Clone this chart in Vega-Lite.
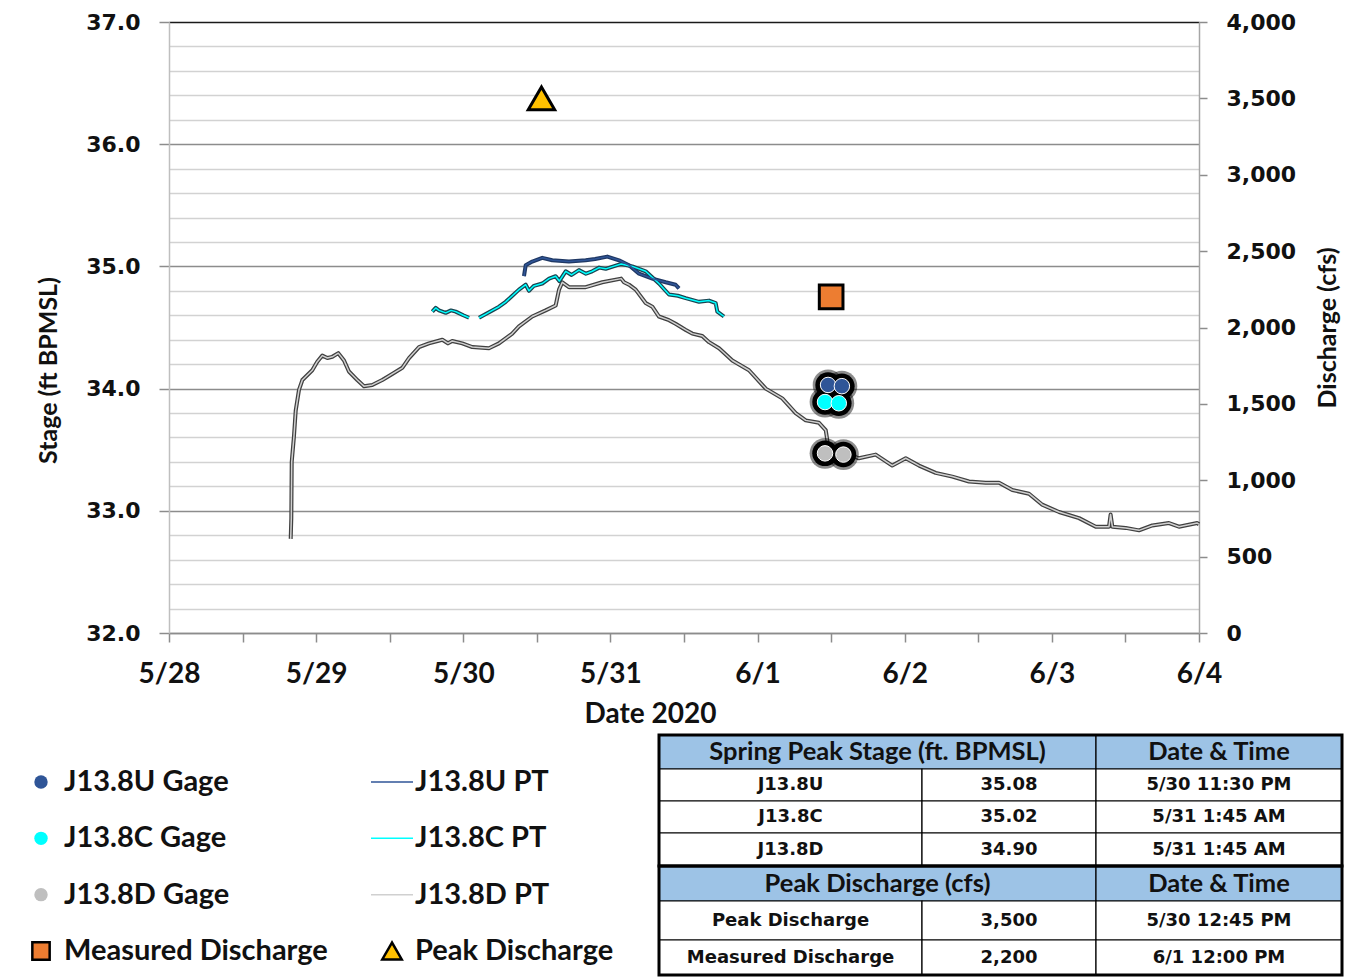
{
"$schema": "https://vega.github.io/schema/vega-lite/v6.json",
"background": "white",
"padding": {"left": 27, "top": 11, "right": 5, "bottom": 2},
"bounds": "flush",
"spacing": 102,
"config": {"view": {"stroke": null}},
"datasets": {
"pt": [
{"s":"J13.8D PT","g":"D","t":"2020-05-28T19:51","v":32.77},
{"s":"J13.8D PT","g":"D","t":"2020-05-28T19:57","v":32.94},
{"s":"J13.8D PT","g":"D","t":"2020-05-28T20:01","v":33.40},
{"s":"J13.8D PT","g":"D","t":"2020-05-28T20:23","v":33.61},
{"s":"J13.8D PT","g":"D","t":"2020-05-28T20:40","v":33.82},
{"s":"J13.8D PT","g":"D","t":"2020-05-28T21:12","v":33.99},
{"s":"J13.8D PT","g":"D","t":"2020-05-28T21:45","v":34.07},
{"s":"J13.8D PT","g":"D","t":"2020-05-28T23:22","v":34.15},
{"s":"J13.8D PT","g":"D","t":"2020-05-29T00:11","v":34.22},
{"s":"J13.8D PT","g":"D","t":"2020-05-29T01:00","v":34.27},
{"s":"J13.8D PT","g":"D","t":"2020-05-29T01:50","v":34.25},
{"s":"J13.8D PT","g":"D","t":"2020-05-29T02:38","v":34.26},
{"s":"J13.8D PT","g":"D","t":"2020-05-29T03:37","v":34.29},
{"s":"J13.8D PT","g":"D","t":"2020-05-29T04:33","v":34.23},
{"s":"J13.8D PT","g":"D","t":"2020-05-29T05:21","v":34.14},
{"s":"J13.8D PT","g":"D","t":"2020-05-29T06:43","v":34.07},
{"s":"J13.8D PT","g":"D","t":"2020-05-29T07:48","v":34.02},
{"s":"J13.8D PT","g":"D","t":"2020-05-29T09:10","v":34.03},
{"s":"J13.8D PT","g":"D","t":"2020-05-29T10:47","v":34.07},
{"s":"J13.8D PT","g":"D","t":"2020-05-29T12:25","v":34.12},
{"s":"J13.8D PT","g":"D","t":"2020-05-29T14:03","v":34.17},
{"s":"J13.8D PT","g":"D","t":"2020-05-29T15:09","v":34.25},
{"s":"J13.8D PT","g":"D","t":"2020-05-29T16:47","v":34.34},
{"s":"J13.8D PT","g":"D","t":"2020-05-29T18:24","v":34.37},
{"s":"J13.8D PT","g":"D","t":"2020-05-29T20:35","v":34.40},
{"s":"J13.8D PT","g":"D","t":"2020-05-29T21:30","v":34.37},
{"s":"J13.8D PT","g":"D","t":"2020-05-29T22:12","v":34.39},
{"s":"J13.8D PT","g":"D","t":"2020-05-29T23:50","v":34.37},
{"s":"J13.8D PT","g":"D","t":"2020-05-30T01:28","v":34.34},
{"s":"J13.8D PT","g":"D","t":"2020-05-30T04:11","v":34.33},
{"s":"J13.8D PT","g":"D","t":"2020-05-30T05:49","v":34.37},
{"s":"J13.8D PT","g":"D","t":"2020-05-30T07:59","v":34.45},
{"s":"J13.8D PT","g":"D","t":"2020-05-30T09:05","v":34.51},
{"s":"J13.8D PT","g":"D","t":"2020-05-30T11:15","v":34.59},
{"s":"J13.8D PT","g":"D","t":"2020-05-30T13:26","v":34.64},
{"s":"J13.8D PT","g":"D","t":"2020-05-30T15:04","v":34.68},
{"s":"J13.8D PT","g":"D","t":"2020-05-30T15:37","v":34.81},
{"s":"J13.8D PT","g":"D","t":"2020-05-30T16:09","v":34.87},
{"s":"J13.8D PT","g":"D","t":"2020-05-30T17:14","v":34.83},
{"s":"J13.8D PT","g":"D","t":"2020-05-30T19:58","v":34.83},
{"s":"J13.8D PT","g":"D","t":"2020-05-30T22:40","v":34.87},
{"s":"J13.8D PT","g":"D","t":"2020-05-31T01:45","v":34.90},
{"s":"J13.8D PT","g":"D","t":"2020-05-31T02:13","v":34.87},
{"s":"J13.8D PT","g":"D","t":"2020-05-31T03:02","v":34.85},
{"s":"J13.8D PT","g":"D","t":"2020-05-31T04:07","v":34.81},
{"s":"J13.8D PT","g":"D","t":"2020-05-31T05:45","v":34.70},
{"s":"J13.8D PT","g":"D","t":"2020-05-31T06:50","v":34.67},
{"s":"J13.8D PT","g":"D","t":"2020-05-31T07:55","v":34.59},
{"s":"J13.8D PT","g":"D","t":"2020-05-31T09:33","v":34.56},
{"s":"J13.8D PT","g":"D","t":"2020-05-31T10:38","v":34.53},
{"s":"J13.8D PT","g":"D","t":"2020-05-31T12:17","v":34.48},
{"s":"J13.8D PT","g":"D","t":"2020-05-31T13:21","v":34.45},
{"s":"J13.8D PT","g":"D","t":"2020-05-31T14:59","v":34.43},
{"s":"J13.8D PT","g":"D","t":"2020-05-31T16:05","v":34.38},
{"s":"J13.8D PT","g":"D","t":"2020-05-31T17:43","v":34.33},
{"s":"J13.8D PT","g":"D","t":"2020-05-31T19:53","v":34.23},
{"s":"J13.8D PT","g":"D","t":"2020-05-31T22:36","v":34.15},
{"s":"J13.8D PT","g":"D","t":"2020-06-01T01:20","v":34.00},
{"s":"J13.8D PT","g":"D","t":"2020-06-01T04:02","v":33.92},
{"s":"J13.8D PT","g":"D","t":"2020-06-01T06:13","v":33.80},
{"s":"J13.8D PT","g":"D","t":"2020-06-01T07:51","v":33.74},
{"s":"J13.8D PT","g":"D","t":"2020-06-01T10:01","v":33.72},
{"s":"J13.8D PT","g":"D","t":"2020-06-01T11:07","v":33.66},
{"s":"J13.8D PT","g":"D","t":"2020-06-01T11:22","v":33.58},
{"s":"J13.8D PT","g":"D","t":"2020-06-01T11:30","v":33.47},
{"s":"J13.8D PT","g":"D","t":"2020-06-01T14:00","v":33.46},
{"s":"J13.8D PT","g":"D","t":"2020-06-01T16:00","v":33.44},
{"s":"J13.8D PT","g":"D","t":"2020-06-01T16:32","v":33.43},
{"s":"J13.8D PT","g":"D","t":"2020-06-01T19:16","v":33.46},
{"s":"J13.8D PT","g":"D","t":"2020-06-01T21:58","v":33.37},
{"s":"J13.8D PT","g":"D","t":"2020-06-02T00:10","v":33.43},
{"s":"J13.8D PT","g":"D","t":"2020-06-02T02:20","v":33.37},
{"s":"J13.8D PT","g":"D","t":"2020-06-02T05:03","v":33.31},
{"s":"J13.8D PT","g":"D","t":"2020-06-02T07:45","v":33.28},
{"s":"J13.8D PT","g":"D","t":"2020-06-02T10:29","v":33.24},
{"s":"J13.8D PT","g":"D","t":"2020-06-02T13:12","v":33.23},
{"s":"J13.8D PT","g":"D","t":"2020-06-02T15:23","v":33.23},
{"s":"J13.8D PT","g":"D","t":"2020-06-02T17:33","v":33.17},
{"s":"J13.8D PT","g":"D","t":"2020-06-02T20:16","v":33.14},
{"s":"J13.8D PT","g":"D","t":"2020-06-02T22:26","v":33.05},
{"s":"J13.8D PT","g":"D","t":"2020-06-03T01:10","v":32.99},
{"s":"J13.8D PT","g":"D","t":"2020-06-03T04:26","v":32.94},
{"s":"J13.8D PT","g":"D","t":"2020-06-03T07:09","v":32.87},
{"s":"J13.8D PT","g":"D","t":"2020-06-03T09:19","v":32.87},
{"s":"J13.8D PT","g":"D","t":"2020-06-03T09:35","v":32.97},
{"s":"J13.8D PT","g":"D","t":"2020-06-03T09:52","v":32.87},
{"s":"J13.8D PT","g":"D","t":"2020-06-03T12:03","v":32.86},
{"s":"J13.8D PT","g":"D","t":"2020-06-03T14:13","v":32.84},
{"s":"J13.8D PT","g":"D","t":"2020-06-03T16:23","v":32.88},
{"s":"J13.8D PT","g":"D","t":"2020-06-03T19:06","v":32.90},
{"s":"J13.8D PT","g":"D","t":"2020-06-03T20:44","v":32.87},
{"s":"J13.8D PT","g":"D","t":"2020-06-03T23:43","v":32.90},
{"s":"J13.8D PT","g":"D","t":"2020-06-04T00:00","v":32.89},
{"s":"J13.8C PT","g":"C1","t":"2020-05-29T18:57","v":34.63},
{"s":"J13.8C PT","g":"C1","t":"2020-05-29T19:30","v":34.66},
{"s":"J13.8C PT","g":"C1","t":"2020-05-29T20:02","v":34.64},
{"s":"J13.8C PT","g":"C1","t":"2020-05-29T21:08","v":34.62},
{"s":"J13.8C PT","g":"C1","t":"2020-05-29T22:00","v":34.64},
{"s":"J13.8C PT","g":"C1","t":"2020-05-29T22:46","v":34.63},
{"s":"J13.8C PT","g":"C1","t":"2020-05-30T00:00","v":34.60},
{"s":"J13.8C PT","g":"C1","t":"2020-05-30T00:56","v":34.58},
{"s":"J13.8C PT","g":"C2","t":"2020-05-30T02:34","v":34.58},
{"s":"J13.8C PT","g":"C2","t":"2020-05-30T03:40","v":34.61},
{"s":"J13.8C PT","g":"C2","t":"2020-05-30T04:44","v":34.64},
{"s":"J13.8C PT","g":"C2","t":"2020-05-30T05:50","v":34.67},
{"s":"J13.8C PT","g":"C2","t":"2020-05-30T06:55","v":34.71},
{"s":"J13.8C PT","g":"C2","t":"2020-05-30T08:00","v":34.76},
{"s":"J13.8C PT","g":"C2","t":"2020-05-30T09:05","v":34.81},
{"s":"J13.8C PT","g":"C2","t":"2020-05-30T10:11","v":34.85},
{"s":"J13.8C PT","g":"C2","t":"2020-05-30T10:43","v":34.80},
{"s":"J13.8C PT","g":"C2","t":"2020-05-30T11:30","v":34.84},
{"s":"J13.8C PT","g":"C2","t":"2020-05-30T12:53","v":34.86},
{"s":"J13.8C PT","g":"C2","t":"2020-05-30T14:00","v":34.90},
{"s":"J13.8C PT","g":"C2","t":"2020-05-30T15:04","v":34.92},
{"s":"J13.8C PT","g":"C2","t":"2020-05-30T15:40","v":34.88},
{"s":"J13.8C PT","g":"C2","t":"2020-05-30T16:42","v":34.96},
{"s":"J13.8C PT","g":"C2","t":"2020-05-30T17:40","v":34.93},
{"s":"J13.8C PT","g":"C2","t":"2020-05-30T18:52","v":34.97},
{"s":"J13.8C PT","g":"C2","t":"2020-05-30T20:00","v":34.94},
{"s":"J13.8C PT","g":"C2","t":"2020-05-30T21:02","v":34.96},
{"s":"J13.8C PT","g":"C2","t":"2020-05-30T22:10","v":34.99},
{"s":"J13.8C PT","g":"C2","t":"2020-05-30T23:14","v":34.98},
{"s":"J13.8C PT","g":"C2","t":"2020-05-31T00:30","v":35.00},
{"s":"J13.8C PT","g":"C2","t":"2020-05-31T01:45","v":35.02},
{"s":"J13.8C PT","g":"C2","t":"2020-05-31T03:34","v":35.00},
{"s":"J13.8C PT","g":"C2","t":"2020-05-31T05:45","v":34.96},
{"s":"J13.8C PT","g":"C2","t":"2020-05-31T07:55","v":34.86},
{"s":"J13.8C PT","g":"C2","t":"2020-05-31T09:33","v":34.77},
{"s":"J13.8C PT","g":"C2","t":"2020-05-31T11:00","v":34.76},
{"s":"J13.8C PT","g":"C2","t":"2020-05-31T12:17","v":34.74},
{"s":"J13.8C PT","g":"C2","t":"2020-05-31T14:27","v":34.71},
{"s":"J13.8C PT","g":"C2","t":"2020-05-31T16:05","v":34.72},
{"s":"J13.8C PT","g":"C2","t":"2020-05-31T17:10","v":34.70},
{"s":"J13.8C PT","g":"C2","t":"2020-05-31T17:26","v":34.63},
{"s":"J13.8C PT","g":"C2","t":"2020-05-31T18:31","v":34.59},
{"s":"J13.8U PT","g":"U","t":"2020-05-30T09:54","v":34.92},
{"s":"J13.8U PT","g":"U","t":"2020-05-30T10:11","v":35.01},
{"s":"J13.8U PT","g":"U","t":"2020-05-30T11:15","v":35.04},
{"s":"J13.8U PT","g":"U","t":"2020-05-30T12:53","v":35.07},
{"s":"J13.8U PT","g":"U","t":"2020-05-30T14:31","v":35.05},
{"s":"J13.8U PT","g":"U","t":"2020-05-30T17:14","v":35.04},
{"s":"J13.8U PT","g":"U","t":"2020-05-30T19:58","v":35.05},
{"s":"J13.8U PT","g":"U","t":"2020-05-30T21:30","v":35.06},
{"s":"J13.8U PT","g":"U","t":"2020-05-30T23:30","v":35.08},
{"s":"J13.8U PT","g":"U","t":"2020-05-31T01:24","v":35.05},
{"s":"J13.8U PT","g":"U","t":"2020-05-31T03:02","v":35.01},
{"s":"J13.8U PT","g":"U","t":"2020-05-31T04:40","v":34.94},
{"s":"J13.8U PT","g":"U","t":"2020-05-31T06:50","v":34.90},
{"s":"J13.8U PT","g":"U","t":"2020-05-31T09:01","v":34.87},
{"s":"J13.8U PT","g":"U","t":"2020-05-31T10:38","v":34.85},
{"s":"J13.8U PT","g":"U","t":"2020-05-31T11:11","v":34.82}
],
"gage": [
{"s":"J13.8D Gage","t":"2020-06-01T11:00","v":33.47},
{"s":"J13.8D Gage","t":"2020-06-01T14:00","v":33.46},
{"s":"J13.8C Gage","t":"2020-06-01T11:00","v":33.89},
{"s":"J13.8C Gage","t":"2020-06-01T13:15","v":33.88},
{"s":"J13.8U Gage","t":"2020-06-01T11:30","v":34.03},
{"s":"J13.8U Gage","t":"2020-06-01T13:45","v":34.02}
],
"q": [
{"s":"Peak Discharge","t":"2020-05-30T12:45","q":3500},
{"s":"Measured Discharge","t":"2020-06-01T12:00","q":2200}
],
"leg": [
{"s":"J13.8U Gage","k":"gage","c":0,"r":0},
{"s":"J13.8U PT","k":"pt","c":1,"r":0},
{"s":"J13.8C Gage","k":"gage","c":0,"r":1},
{"s":"J13.8C PT","k":"pt","c":1,"r":1},
{"s":"J13.8D Gage","k":"gage","c":0,"r":2},
{"s":"J13.8D PT","k":"pt","c":1,"r":2},
{"s":"Measured Discharge","k":"meas","c":0,"r":3},
{"s":"Peak Discharge","k":"peak","c":1,"r":3}
],
"tbl": [
{"k":"hm","r":0,"r2":1,"ym":0.5,"c0":0,"c1":2,"xm":1,"txt":"Spring Peak Stage (ft. BPMSL)"},
{"k":"h","r":0,"r2":1,"ym":0.5,"c0":2,"c1":3,"xm":2.5,"txt":"Date & Time"},
{"k":"c","r":1,"r2":2,"ym":1.5,"c0":0,"c1":1,"xm":0.5,"txt":"J13.8U"},
{"k":"c","r":1,"r2":2,"ym":1.5,"c0":1,"c1":2,"xm":1.5,"txt":"35.08"},
{"k":"c","r":1,"r2":2,"ym":1.5,"c0":2,"c1":3,"xm":2.5,"txt":"5/30 11:30 PM"},
{"k":"c","r":2,"r2":3,"ym":2.5,"c0":0,"c1":1,"xm":0.5,"txt":"J13.8C"},
{"k":"c","r":2,"r2":3,"ym":2.5,"c0":1,"c1":2,"xm":1.5,"txt":"35.02"},
{"k":"c","r":2,"r2":3,"ym":2.5,"c0":2,"c1":3,"xm":2.5,"txt":"5/31 1:45 AM"},
{"k":"c","r":3,"r2":4,"ym":3.5,"c0":0,"c1":1,"xm":0.5,"txt":"J13.8D"},
{"k":"c","r":3,"r2":4,"ym":3.5,"c0":1,"c1":2,"xm":1.5,"txt":"34.90"},
{"k":"c","r":3,"r2":4,"ym":3.5,"c0":2,"c1":3,"xm":2.5,"txt":"5/31 1:45 AM"},
{"k":"hm","r":4,"r2":5,"ym":4.5,"c0":0,"c1":2,"xm":1,"txt":"Peak Discharge (cfs)"},
{"k":"h","r":4,"r2":5,"ym":4.5,"c0":2,"c1":3,"xm":2.5,"txt":"Date & Time"},
{"k":"c","r":5,"r2":6,"ym":5.5,"c0":0,"c1":1,"xm":0.5,"txt":"Peak Discharge"},
{"k":"c","r":5,"r2":6,"ym":5.5,"c0":1,"c1":2,"xm":1.5,"txt":"3,500"},
{"k":"c","r":5,"r2":6,"ym":5.5,"c0":2,"c1":3,"xm":2.5,"txt":"5/30 12:45 PM"},
{"k":"c","r":6,"r2":7,"ym":6.5,"c0":0,"c1":1,"xm":0.5,"txt":"Measured Discharge"},
{"k":"c","r":6,"r2":7,"ym":6.5,"c0":1,"c1":2,"xm":1.5,"txt":"2,200"},
{"k":"c","r":6,"r2":7,"ym":6.5,"c0":2,"c1":3,"xm":2.5,"txt":"6/1 12:00 PM"},
{"k":"sec","r":0,"r2":4,"c0":0,"c1":3},
{"k":"sec","r":4,"r2":7,"c0":0,"c1":3}
]
},
"vconcat": [
{
"width": 1030,
"height": 611,
"layer": [
{
"data": {"name": "pt"},
"mark": {"type": "line", "strokeWidth": 4, "strokeJoin": "round"},
"encoding": {
"x": {"field": "t", "type": "temporal",
 "scale": {"domain": [{"year":2020,"month":5,"date":28},{"year":2020,"month":6,"date":4}]},
 "axis": {
  "title": "Date 2020",
  "titleX": 481,
  "values": [{"year":2020,"month":5,"date":28,"hours":0},{"year":2020,"month":5,"date":28,"hours":12},{"year":2020,"month":5,"date":29,"hours":0},{"year":2020,"month":5,"date":29,"hours":12},{"year":2020,"month":5,"date":30,"hours":0},{"year":2020,"month":5,"date":30,"hours":12},{"year":2020,"month":5,"date":31,"hours":0},{"year":2020,"month":5,"date":31,"hours":12},{"year":2020,"month":6,"date":1,"hours":0},{"year":2020,"month":6,"date":1,"hours":12},{"year":2020,"month":6,"date":2,"hours":0},{"year":2020,"month":6,"date":2,"hours":12},{"year":2020,"month":6,"date":3,"hours":0},{"year":2020,"month":6,"date":3,"hours":12},{"year":2020,"month":6,"date":4,"hours":0}],
  "labelExpr": "hours(datum.value) === 0 ? timeFormat(datum.value, '%-m/%-d') : ''",
  "tickSize": 9,
  "grid": false,
  "domainColor": "#8C8C8C", "domainWidth": 1.5,
  "tickColor": "#8C8C8C", "tickWidth": 1.5,
  "labelFont": "Lato", "labelFontSize": 28, "labelFontWeight": "bold", "labelColor": "#111111",
  "labelPadding": 18, "labelFlush": false, "labelOverlap": false,
  "titleFont": "Lato", "titleFontSize": 28, "titleFontWeight": "bold", "titleColor": "#111111", "titlePadding": 12
 }},
"y": {"field": "v", "type": "quantitative",
 "scale": {"domain": [32, 37], "nice": false, "zero": false},
 "axis": {
  "title": "Stage (ft BPMSL)",
  "titleY": 348,
  "values": [32,32.2,32.4,32.6,32.8,33,33.2,33.4,33.6,33.8,34,34.2,34.4,34.6,34.8,35,35.2,35.4,35.6,35.8,36,36.2,36.4,36.6,36.8,37],
  "labelExpr": "datum.value % 1 === 0 ? format(datum.value, '.1f') : ''",
  "grid": true,
  "gridColor": {"condition": [{"test": "datum.value === 37", "value": "#1A1A1A"}, {"test": "datum.value % 1 === 0", "value": "#8C8C8C"}], "value": "#D2D2D2"},
  "gridWidth": 1.5,
  "tickOpacity": {"condition": {"test": "datum.value % 1 === 0", "value": 1}, "value": 0},
  "tickSize": 10, "tickColor": "#8C8C8C", "tickWidth": 1.5,
  "domainColor": "#BFBFBF", "domainWidth": 1.5,
  "labelFont": "DejaVu Sans", "labelFontSize": 22, "labelFontWeight": "bold", "labelColor": "#111111",
  "labelPadding": 19, "labelOverlap": false,
  "titleFont": "Lato", "titleFontSize": 25, "titleFontWeight": "bold", "titleColor": "#111111", "titlePadding": 24
 }},
"stroke": {"field": "s", "type": "nominal", "scale": {"domain": ["J13.8U PT","J13.8C PT","J13.8D PT"], "range": ["#1F3864","#1A4450","#404040"]}, "legend": null},
"detail": {"field": "g", "type": "nominal"}
}
},
{
"data": {"name": "pt"},
"mark": {"type": "line", "strokeWidth": 1.5, "strokeJoin": "round"},
"encoding": {
"x": {"field": "t", "type": "temporal", "scale": {"domain": [{"year":2020,"month":5,"date":28},{"year":2020,"month":6,"date":4}]}},
"y": {"field": "v", "type": "quantitative", "scale": {"domain": [32, 37], "nice": false, "zero": false}, "axis": null},
"color": {"field": "s", "type": "nominal", "scale": {"domain": ["J13.8U PT","J13.8C PT","J13.8D PT"], "range": ["#2F5597","#00FFFF","#D0D0D0"]}, "legend": null},
"detail": {"field": "g", "type": "nominal"}
}
},
{
"data": {"name": "gage"},
"mark": {"type": "circle", "size": 950, "color": "black", "opacity": 0.45},
"encoding": {
"x": {"field": "t", "type": "temporal", "scale": {"domain": [{"year":2020,"month":5,"date":28},{"year":2020,"month":6,"date":4}]}},
"y": {"field": "v", "type": "quantitative", "scale": {"domain": [32, 37], "nice": false, "zero": false}, "axis": null}
}
},
{
"data": {"name": "gage"},
"mark": {"type": "circle", "size": 650, "color": "black", "opacity": 1},
"encoding": {
"x": {"field": "t", "type": "temporal", "scale": {"domain": [{"year":2020,"month":5,"date":28},{"year":2020,"month":6,"date":4}]}},
"y": {"field": "v", "type": "quantitative", "scale": {"domain": [32, 37], "nice": false, "zero": false}, "axis": null}
}
},
{
"data": {"name": "gage"},
"mark": {"type": "circle", "size": 240, "stroke": "white", "strokeWidth": 1, "opacity": 1},
"encoding": {
"x": {"field": "t", "type": "temporal", "scale": {"domain": [{"year":2020,"month":5,"date":28},{"year":2020,"month":6,"date":4}]}},
"y": {"field": "v", "type": "quantitative", "scale": {"domain": [32, 37], "nice": false, "zero": false}, "axis": null},
"fill": {"field": "s", "type": "nominal", "scale": {"domain": ["J13.8U Gage","J13.8C Gage","J13.8D Gage"], "range": ["#2F5597","#00FFFF","#BFBFBF"]}, "legend": null}
}
},
{
"data": {"name": "q"},
"transform": [{"filter": "datum.s === 'Peak Discharge'"}],
"mark": {"type": "point", "shape": "triangle-up", "filled": true, "fill": "#FFC000", "stroke": "black", "strokeWidth": 3, "size": 700, "opacity": 1},
"encoding": {
"x": {"field": "t", "type": "temporal", "scale": {"domain": [{"year":2020,"month":5,"date":28},{"year":2020,"month":6,"date":4}]}},
"y": {"field": "q", "type": "quantitative", "scale": {"domain": [0, 4000], "nice": false},
 "axis": {
  "title": "Discharge (cfs)", "orient": "right",
  "values": [0,500,1000,1500,2000,2500,3000,3500,4000], "format": ",.0f",
  "grid": false, "tickSize": 8, "tickColor": "#8C8C8C", "tickWidth": 1.5,
  "domainColor": "#A6A6A6", "domainWidth": 1.5,
  "labelFont": "DejaVu Sans", "labelFontSize": 22, "labelFontWeight": "bold", "labelColor": "#111111", "labelPadding": 19,
  "titleFont": "Lato", "titleFontSize": 25, "titleFontWeight": "bold", "titleColor": "#111111",
  "titleAngle": 270, "titleBaseline": "top", "titlePadding": 20
 }}
}
},
{
"data": {"name": "q"},
"transform": [{"filter": "datum.s === 'Measured Discharge'"}],
"mark": {"type": "point", "shape": "square", "filled": true, "fill": "#ED7D31", "stroke": "black", "strokeWidth": 3, "size": 560, "opacity": 1},
"encoding": {
"x": {"field": "t", "type": "temporal", "scale": {"domain": [{"year":2020,"month":5,"date":28},{"year":2020,"month":6,"date":4}]}},
"y": {"field": "q", "type": "quantitative", "scale": {"domain": [0, 4000], "nice": false}, "axis": null}
}
}
],
"resolve": {"scale": {"y": "independent"}, "axis": {"y": "independent"}}
},
{
"hconcat": [
{
"width": 490,
"height": 240,
"data": {"name": "leg"},
"layer": [
{
"transform": [{"filter": "datum.k === 'gage'"}],
"mark": {"type": "circle", "size": 180, "opacity": 1},
"encoding": {
"x": {"field": "c", "type": "quantitative", "scale": {"domain": [0, 1], "range": [-128, 223]}, "axis": null},
"y": {"field": "r", "type": "quantitative", "scale": {"domain": [0, 3], "range": [47, 216]}, "axis": null},
"fill": {"field": "s", "type": "nominal", "scale": {"domain": ["J13.8U Gage","J13.8C Gage","J13.8D Gage"], "range": ["#2F5597","#00FFFF","#BFBFBF"]}, "legend": null}
}
},
{
"transform": [{"filter": "datum.k === 'pt'"}],
"mark": {"type": "point", "shape": "stroke", "size": 1764, "strokeWidth": 1.5, "filled": false, "opacity": 1},
"encoding": {
"x": {"field": "c", "type": "quantitative", "scale": {"domain": [0, 1], "range": [-128, 223]}, "axis": null},
"y": {"field": "r", "type": "quantitative", "scale": {"domain": [0, 3], "range": [47, 216]}, "axis": null},
"color": {"field": "s", "type": "nominal", "scale": {"domain": ["J13.8U PT","J13.8C PT","J13.8D PT"], "range": ["#2F5597","#00FFFF","#D0D0D0"]}, "legend": null}
}
},
{
"transform": [{"filter": "datum.k === 'meas'"}],
"mark": {"type": "point", "shape": "square", "filled": true, "fill": "#ED7D31", "stroke": "black", "strokeWidth": 2.5, "size": 300, "opacity": 1},
"encoding": {
"x": {"field": "c", "type": "quantitative", "scale": {"domain": [0, 1], "range": [-128, 223]}, "axis": null},
"y": {"field": "r", "type": "quantitative", "scale": {"domain": [0, 3], "range": [47, 216]}, "axis": null}
}
},
{
"transform": [{"filter": "datum.k === 'peak'"}],
"mark": {"type": "point", "shape": "triangle-up", "filled": true, "fill": "#FFC000", "stroke": "black", "strokeWidth": 2.5, "size": 380, "opacity": 1},
"encoding": {
"x": {"field": "c", "type": "quantitative", "scale": {"domain": [0, 1], "range": [-128, 223]}, "axis": null},
"y": {"field": "r", "type": "quantitative", "scale": {"domain": [0, 3], "range": [47, 216]}, "axis": null}
}
},
{
"mark": {"type": "text", "align": "left", "baseline": "middle", "dx": 23, "font": "Lato", "fontSize": 29, "fontWeight": "bold", "color": "#111111"},
"encoding": {
"x": {"field": "c", "type": "quantitative", "scale": {"domain": [0, 1], "range": [-128, 223]}, "axis": null},
"y": {"field": "r", "type": "quantitative", "scale": {"domain": [0, 3], "range": [47, 216]}, "axis": null},
"text": {"field": "s"}
}
}
]
},
{
"width": 683,
"height": 240,
"data": {"name": "tbl"},
"layer": [
{
"transform": [{"filter": "datum.k !== 'sec'"}],
"mark": {"type": "rect", "stroke": "black", "strokeWidth": 1.2},
"encoding": {
"x": {"field": "c0", "type": "quantitative", "scale": {"domain": [0,1,2,3], "range": [0,263,437,683]}, "axis": null},
"x2": {"field": "c1"},
"y": {"field": "r", "type": "quantitative", "scale": {"domain": [0,1,2,3,4,5,6,7], "range": [0,34,66,98,131,166,205,240]}, "axis": null},
"y2": {"field": "r2"},
"fill": {"condition": {"test": "datum.k === 'h' || datum.k === 'hm'", "value": "#9DC3E6"}, "value": "white"}
}
},
{
"transform": [{"filter": "datum.k === 'sec'"}],
"mark": {"type": "rect", "fillOpacity": 0, "fill": "white", "stroke": "black", "strokeWidth": 3},
"encoding": {
"x": {"field": "c0", "type": "quantitative", "scale": {"domain": [0,1,2,3], "range": [0,263,437,683]}, "axis": null},
"x2": {"field": "c1"},
"y": {"field": "r", "type": "quantitative", "scale": {"domain": [0,1,2,3,4,5,6,7], "range": [0,34,66,98,131,166,205,240]}, "axis": null},
"y2": {"field": "r2"}
}
},
{
"transform": [{"filter": "datum.k === 'c'"}],
"mark": {"type": "text", "align": "center", "baseline": "middle", "font": "DejaVu Sans", "fontSize": 18, "fontWeight": "bold", "color": "#111111"},
"encoding": {
"x": {"field": "xm", "type": "quantitative", "scale": {"domain": [0,1,2,3], "range": [0,263,437,683]}, "axis": null},
"y": {"field": "ym", "type": "quantitative", "scale": {"domain": [0,1,2,3,4,5,6,7], "range": [0,34,66,98,131,166,205,240]}, "axis": null},
"text": {"field": "txt"}
}
},
{
"transform": [{"filter": "datum.k === 'h'"}],
"mark": {"type": "text", "align": "center", "baseline": "middle", "font": "Lato", "fontSize": 25.5, "fontWeight": "bold", "color": "#111111"},
"encoding": {
"x": {"field": "xm", "type": "quantitative", "scale": {"domain": [0,1,2,3], "range": [0,263,437,683]}, "axis": null},
"y": {"field": "ym", "type": "quantitative", "scale": {"domain": [0,1,2,3,4,5,6,7], "range": [0,34,66,98,131,166,205,240]}, "axis": null},
"text": {"field": "txt"}
}
},
{
"transform": [{"filter": "datum.k === 'hm'"}],
"mark": {"type": "text", "align": "center", "baseline": "middle", "dx": -44.5, "font": "Lato", "fontSize": 25.5, "fontWeight": "bold", "color": "#111111"},
"encoding": {
"x": {"field": "xm", "type": "quantitative", "scale": {"domain": [0,1,2,3], "range": [0,263,437,683]}, "axis": null},
"y": {"field": "ym", "type": "quantitative", "scale": {"domain": [0,1,2,3,4,5,6,7], "range": [0,34,66,98,131,166,205,240]}, "axis": null},
"text": {"field": "txt"}
}
}
]
}
],
"spacing": 0,
"bounds": "flush"
}
]
}
